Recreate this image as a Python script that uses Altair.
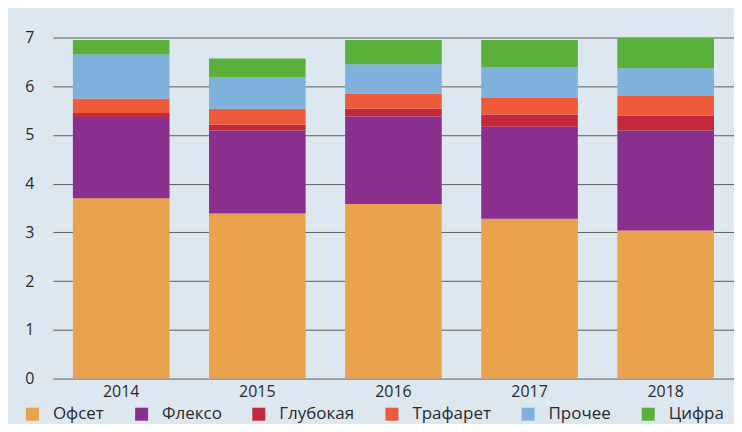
import altair as alt
import pandas as pd

years = ["2014", "2015", "2016", "2017", "2018"]
categories = ["Офсет", "Флексо", "Глубокая", "Трафарет", "Прочее", "Цифра"]
colors = ["#eba24c", "#8b2f8f", "#c3283f", "#ee5b3b", "#80b1dc", "#5bb03c"]

offset = [3.70, 3.39, 3.58, 3.28, 3.04]
flexo = [1.65, 1.70, 1.80, 1.89, 2.05]
gravure = [0.10, 0.12, 0.16, 0.25, 0.31]
screen = [0.30, 0.33, 0.31, 0.34, 0.40]
other = [0.90, 0.64, 0.60, 0.63, 0.57]
digital = [0.30, 0.39, 0.50, 0.56, 0.62]

series = [offset, flexo, gravure, screen, other, digital]
rows = []
for ci, (cat, vals) in enumerate(zip(categories, series)):
    for y, v in zip(years, vals):
        rows.append({"year": y, "cat": cat, "value": v, "ord": ci})
df = pd.DataFrame(rows)

FONT = "Open Sans"

chart = alt.Chart(df).mark_bar(stroke=None).encode(
    x=alt.X("year:N", sort=years, title=None,
            scale=alt.Scale(paddingInner=0.29, paddingOuter=0.147),
            axis=alt.Axis(labelAngle=0, ticks=False, domain=False, grid=False,
                          labelFontSize=16, labelColor="#2a2a2a", labelFont=FONT,
                          labelPadding=5)),
    y=alt.Y("value:Q", title=None, stack="zero",
            scale=alt.Scale(domain=[0, 7], nice=False),
            axis=alt.Axis(values=[0, 1, 2, 3, 4, 5, 6, 7], ticks=False, domain=False,
                          grid=True, gridColor="#5a5e62", gridWidth=1, gridOpacity=1,
                          labelFontSize=16, labelColor="#2a2a2a", labelFont=FONT,
                          labelPadding=19)),
    color=alt.Color("cat:N", sort=categories,
                    scale=alt.Scale(domain=categories, range=colors),
                    legend=alt.Legend(title=None, orient="none", direction="horizontal",
                                      legendX=-29, legendY=369, symbolType="square",
                                      symbolSize=170, symbolStrokeWidth=0,
                                      labelFontSize=17, labelFont=FONT,
                                      labelColor="#2a2a2a", columnPadding=28.5,
                                      labelOffset=12)),
    order=alt.Order("ord:Q", sort="ascending"),
).properties(
    width=683, height=342,
    background="#dce7ef",
    padding={"left": 45, "top": 29, "right": 0, "bottom": 45},
    autosize=alt.AutoSizeParams(type="none"),
).configure_view(stroke=None)

chart.save("out.html", embed_options={"renderer": "svg", "actions": False})
